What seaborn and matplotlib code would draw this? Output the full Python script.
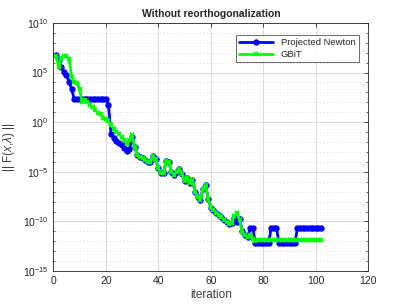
import matplotlib
matplotlib.use('Agg')
import matplotlib.pyplot as plt
import matplotlib.ticker as mticker
import numpy as np
import pandas as pd
import seaborn as sns

# log10 of ||F(x, lambda)||, one value per iteration
newton_log = [6.75, 6.25, 5.6, 5.1, 4.75, 4.05, 3.3, 2.3, 2.3, 2.3,
              2.3, 2.3, 2.3, 2.3, 2.3, 2.3, 2.3, 2.3, 2.3, 2.3,
              1.7, -1.2, -1.55, -1.9, -2.1, -2.3, -2.55, -2.9, -2.75, -1.5,
              -2.5, -3.3, -3.5, -3.65, -3.85, -4.05, -4.0, -3.45, -3.75, -4.65,
              -5.15, -5.1, -3.9, -4.0, -5.0, -5.35, -5.0, -4.75, -5.2, -5.9,
              -5.6, -6.1, -5.8, -7.0, -7.5, -7.85, -6.75, -6.35, -7.7, -8.6,
              -8.85, -9.1, -9.3, -9.55, -9.8, -10.05, -10.3, -10.15, -9.6, -10.1,
              -9.75, -11.0, -11.4, -11.6, -10.7, -10.7, -12.2, -12.2, -12.2, -12.2,
              -12.2, -12.2, -10.65, -10.65, -10.65, -12.2, -12.2, -12.2, -12.2, -12.2,
              -12.2, -12.2, -10.65, -10.65, -10.65, -10.65, -10.65, -10.65, -10.65, -10.65,
              -10.65, -10.65]
gbit_log = [6.65, 5.6, 6.5, 6.65, 6.65, 6.4, 4.55, 4.0, 3.9, 3.3,
            2.05, 2.2, 2.05, 1.7, 1.5, 1.2, 0.95, 0.85, 0.45, 0.35,
            0.15, -0.3, -0.65, -1.0, -1.2, -1.5, -1.75, -2.2, -1.8, -1.3,
            -2.5, -3.3, -3.5, -3.65, -3.85, -4.05, -4.0, -3.45, -3.75, -4.65,
            -5.15, -5.1, -3.9, -4.0, -5.0, -5.35, -5.0, -4.75, -5.2, -5.9,
            -5.6, -6.1, -5.8, -7.0, -7.5, -7.85, -6.75, -6.35, -7.7, -8.6,
            -8.85, -9.1, -9.3, -9.55, -9.8, -10.05, -10.3, -10.15, -9.4, -9.15,
            -9.9, -11.05, -11.4, -11.6, -11.4, -11.75, -11.95, -11.9, -11.9, -11.9,
            -11.9, -11.9, -11.9, -11.9, -11.9, -11.9, -11.9, -11.9, -11.9, -11.9,
            -11.9, -11.9, -11.9, -11.9, -11.9, -11.9, -11.9, -11.9, -11.9, -11.9,
            -11.9, -11.9]
iterations = list(range(1, len(newton_log) + 1))

df_newton = pd.DataFrame({'iteration': iterations, 'value': 10.0 ** np.array(newton_log)})
df_gbit = pd.DataFrame({'iteration': iterations, 'value': 10.0 ** np.array(gbit_log)})

sns.set_style('white')
plt.rcParams['font.family'] = ['Liberation Sans', 'DejaVu Sans']
plt.rcParams['mathtext.fontset'] = 'custom'
plt.rcParams['mathtext.rm'] = 'Liberation Sans'
plt.rcParams['mathtext.it'] = 'Liberation Sans:italic'

fig = plt.figure(figsize=(4.07, 3.05), dpi=100)
ax = fig.add_axes([0.131, 0.111, 0.774, 0.814])

sns.lineplot(data=df_newton, x='iteration', y='value', ax=ax, color='#0000ff',
             marker='o', markersize=3.8, markeredgecolor='#0000ff', linewidth=2,
             label='Projected Newton')
sns.lineplot(data=df_gbit, x='iteration', y='value', ax=ax, color='#00ff00',
             marker='x', markersize=3.5, markeredgecolor='#00ff00', markeredgewidth=1.4,
             linewidth=2, label='GBiT')

ax.set_yscale('log')
ax.set_xlim(0, 120)
ax.set_ylim(1e-15, 1e10)
ax.set_xticks([0, 20, 40, 60, 80, 100, 120])
ax.set_yticks([1e-15, 1e-10, 1e-5, 1e0, 1e5, 1e10])
ax.yaxis.set_minor_locator(mticker.FixedLocator([10.0 ** k for k in range(-15, 11)]))
ax.yaxis.set_minor_formatter(mticker.NullFormatter())

ax.grid(True, which='major', color='#dcdcdc', linewidth=0.8)
ax.grid(True, which='minor', axis='y', color='#c8c8c8', linestyle=(0, (1, 3)), linewidth=0.6)
ax.set_axisbelow(True)

for s in ax.spines.values():
    s.set_color('#262626')
    s.set_linewidth(0.6)
ax.tick_params(axis='both', which='major', labelsize=7.5, direction='in', length=3,
               width=0.6, colors='#262626', top=True, right=True)
ax.tick_params(axis='y', which='minor', direction='in', length=1.5, width=0.5,
               left=True, right=True)

ax.set_title('Without reorthogonalization', fontsize=7.5, fontweight='bold', pad=4)
ax.set_xlabel('iteration', fontsize=8.5, color='#404040', labelpad=2.5)
ax.set_ylabel(r'|| F($x$,$\lambda$) ||', fontsize=8.5, color='#404040', labelpad=4)

leg = ax.legend(loc='upper right', fontsize=6.8, frameon=True, fancybox=False,
                edgecolor='#262626', handlelength=3.6, borderpad=0.35, numpoints=1,
                labelspacing=0.3, bbox_to_anchor=(0.985, 0.97))
leg.get_frame().set_linewidth(0.6)

fig.savefig('out.png', dpi=100)
